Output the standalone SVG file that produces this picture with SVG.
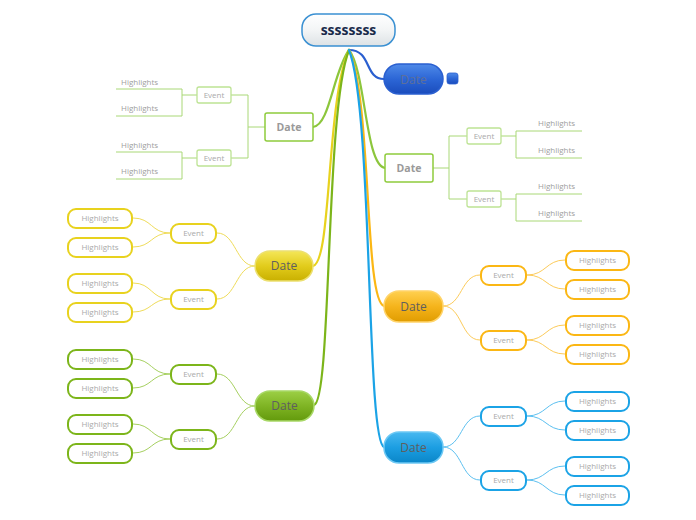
<svg xmlns="http://www.w3.org/2000/svg" width="696" height="520" viewBox="0 0 696 520">
<defs>
<linearGradient id="gRoot" x1="0" y1="0" x2="0" y2="1"><stop offset="0" stop-color="#ffffff"/><stop offset="0.5" stop-color="#f3f5f6"/><stop offset="1" stop-color="#dde2e5"/></linearGradient>
<linearGradient id="gBlueTop" x1="0" y1="0" x2="0" y2="1"><stop offset="0" stop-color="#4f8ae8"/><stop offset="0.5" stop-color="#2c66d6"/><stop offset="1" stop-color="#1a4cbc"/></linearGradient>
<linearGradient id="gYellow" x1="0" y1="0" x2="0" y2="1"><stop offset="0" stop-color="#f4e658"/><stop offset="0.5" stop-color="#e2cc1c"/><stop offset="1" stop-color="#c9b000"/></linearGradient>
<linearGradient id="gOrange" x1="0" y1="0" x2="0" y2="1"><stop offset="0" stop-color="#ffd050"/><stop offset="0.5" stop-color="#f5b41c"/><stop offset="1" stop-color="#e09c00"/></linearGradient>
<linearGradient id="gGreen" x1="0" y1="0" x2="0" y2="1"><stop offset="0" stop-color="#9ccf45"/><stop offset="0.5" stop-color="#7fb424"/><stop offset="1" stop-color="#639a0c"/></linearGradient>
<linearGradient id="gBlue" x1="0" y1="0" x2="0" y2="1"><stop offset="0" stop-color="#48b8f0"/><stop offset="0.5" stop-color="#1c9ee2"/><stop offset="1" stop-color="#0a86c8"/></linearGradient>
</defs>
<style>
text{font-family:"Open Sans","DejaVu Sans",sans-serif;text-anchor:middle}
.root{font-size:14px;font-weight:bold;fill:#1a2a4a}
.dc{font-size:12px;fill:#5f5f5f}
.dl{font-size:10.5px;font-weight:bold;fill:#9a9a9a}
.sm{font-size:8px;fill:#aaaaaa}
.hl{font-size:8px;fill:#a0a0a0;text-anchor:start}
.box{fill:#ffffff;stroke-width:2}
.ly{stroke:#e8d21e}.lo{stroke:#fbb714}.lg{stroke:#7cb51a}.lb{stroke:#1ba3e6}
.lgt{fill:#ffffff;stroke:#8fcb3c;stroke-width:1.5}
.lev{fill:#ffffff;stroke:#bde394;stroke-width:1.3}
.c{fill:none;stroke-width:1}
.trunk{fill:none;stroke-width:2.2;stroke-linecap:round}
</style>

<g id="connectors">
  <path class="trunk" stroke="#2a5fd0" d="M349,50 C372,50 364,79 384,79"/>
  <path class="trunk" stroke="#8cc63c" d="M349,50 C333,72 330,125 313,127"/>
  <path class="trunk" stroke="#8cc63c" d="M349,50 C366,72 365,165 385,168"/>
  <path class="trunk" stroke="#e8d21e" d="M349,50 C326,100 332,262 313,266"/>
  <path class="trunk" stroke="#fbb714" d="M349,50 C372,100 364,300 384,306"/>
  <path class="trunk" stroke="#7cb51a" d="M349,50 C325,110 332,400 314,405"/>
  <path class="trunk" stroke="#1ba3e6" d="M349,50 C373,110 366,440 384,447"/>

  <g class="c" stroke="#a9d877">
    <path d="M265,127 H248 M248,95 V158 M248,95 H231 M248,158 H231"/>
    <path d="M197,95 H182 M182,89 V116 M182,89 H116 M182,116 H116"/>
    <path d="M197,158 H182 M182,152 V179 M182,152 H116 M182,179 H116"/>
  </g>
  <g class="c" stroke="#a9d877">
    <path d="M433,168 H449 M449,136 V199 M449,136 H467 M449,199 H467"/>
    <path d="M501,136 H516 M516,131 V158 M516,131 H582 M516,158 H582"/>
    <path d="M501,199 H516 M516,194 V221 M516,194 H582 M516,221 H582"/>
  </g>

  <g class="c" stroke="#efdc5a">
    <path d="M255,266 C236,266 236,233 217,233"/>
    <path d="M255,266 C236,266 236,299 217,299"/>
    <path d="M170,233 C151,233 152,218 133,218"/>
    <path d="M170,233 C151,233 152,247 133,247"/>
    <path d="M170,299 C151,299 152,283 133,283"/>
    <path d="M170,299 C151,299 152,312 133,312"/>
  </g>
  <g class="c" stroke="#a6d060">
    <path d="M255,406 C236,406 236,374 217,374"/>
    <path d="M255,406 C236,406 236,439 217,439"/>
    <path d="M170,374 C151,374 152,359 133,359"/>
    <path d="M170,374 C151,374 152,388 133,388"/>
    <path d="M170,439 C151,439 152,424 133,424"/>
    <path d="M170,439 C151,439 152,453 133,453"/>
  </g>
  <g class="c" stroke="#fccb5a">
    <path d="M443,306 C462,306 461,275 480,275"/>
    <path d="M443,306 C462,306 461,340 480,340"/>
    <path d="M527,275 C546,275 546,260 565,260"/>
    <path d="M527,275 C546,275 546,289 565,289"/>
    <path d="M527,340 C546,340 546,325 565,325"/>
    <path d="M527,340 C546,340 546,354 565,354"/>
  </g>
  <g class="c" stroke="#5cc0f0">
    <path d="M443,447 C462,447 461,416 480,416"/>
    <path d="M443,447 C462,447 461,480 480,480"/>
    <path d="M527,416 C546,416 546,401 565,401"/>
    <path d="M527,416 C546,416 546,430 565,430"/>
    <path d="M527,480 C546,480 546,466 565,466"/>
    <path d="M527,480 C546,480 546,495 565,495"/>
  </g>
</g>

<g id="root">
  <rect x="302" y="14" width="93" height="32" rx="14" fill="url(#gRoot)" stroke="#3a90d2" stroke-width="1.5"/>
  <text class="root" x="348.5" y="35">ssssssss</text>
</g>

<g id="date-blue-top">
  <rect x="384" y="64" width="59" height="30" rx="15" fill="url(#gBlueTop)" stroke="#2a5fd0" stroke-width="1.5"/>
  <text class="dc" x="413.5" y="83.5" style="fill:#5d6f9a">Date</text>
  <rect x="447" y="73" width="11" height="11" rx="2.5" fill="url(#gBlueTop)" stroke="#2a5fd0" stroke-width="0.8"/>
</g>

<g id="date-topleft">
  <rect class="lgt" x="265" y="113" width="48" height="28" rx="2"/>
  <text class="dl" x="289" y="130.5">Date</text>
  <g id="tl-event1"><rect class="lev" x="197" y="87" width="34" height="16" rx="2"/><text class="sm" x="214" y="98">Event</text></g>
  <g id="tl-event2"><rect class="lev" x="197" y="150" width="34" height="16" rx="2"/><text class="sm" x="214" y="161">Event</text></g>
  <text class="hl" x="121" y="85">Highlights</text>
  <text class="hl" x="121" y="111">Highlights</text>
  <text class="hl" x="121" y="148">Highlights</text>
  <text class="hl" x="121" y="174">Highlights</text>
</g>

<g id="date-right">
  <rect class="lgt" x="385" y="154" width="48" height="28" rx="2"/>
  <text class="dl" x="409" y="171.5">Date</text>
  <g id="r-event1"><rect class="lev" x="467" y="128" width="34" height="16" rx="2"/><text class="sm" x="484" y="139">Event</text></g>
  <g id="r-event2"><rect class="lev" x="467" y="191" width="34" height="16" rx="2"/><text class="sm" x="484" y="202">Event</text></g>
  <text class="hl" x="538" y="126">Highlights</text>
  <text class="hl" x="538" y="153">Highlights</text>
  <text class="hl" x="538" y="189">Highlights</text>
  <text class="hl" x="538" y="216">Highlights</text>
</g>

<g id="date-yellow">
  <rect x="255" y="251" width="58" height="30" rx="15" fill="url(#gYellow)" stroke="#ece070" stroke-width="1.5"/>
  <text class="dc" x="284" y="270">Date</text>
  <g id="y-event1"><rect class="box ly" x="171" y="224" width="45" height="19" rx="8"/><text class="sm" x="193.5" y="236">Event</text></g>
  <g id="y-event2"><rect class="box ly" x="171" y="290" width="45" height="19" rx="8"/><text class="sm" x="193.5" y="302">Event</text></g>
  <g id="y-h1"><rect class="box ly" x="68" y="209" width="64" height="19" rx="8"/><text class="sm" x="100" y="221">Highlights</text></g>
  <g id="y-h2"><rect class="box ly" x="68" y="238" width="64" height="19" rx="8"/><text class="sm" x="100" y="250">Highlights</text></g>
  <g id="y-h3"><rect class="box ly" x="68" y="274" width="64" height="19" rx="8"/><text class="sm" x="100" y="286">Highlights</text></g>
  <g id="y-h4"><rect class="box ly" x="68" y="303" width="64" height="19" rx="8"/><text class="sm" x="100" y="315">Highlights</text></g>
</g>

<g id="date-orange">
  <rect x="384" y="291" width="59" height="31" rx="15" fill="url(#gOrange)" stroke="#ffd46a" stroke-width="1.5"/>
  <text class="dc" x="413.5" y="310.5">Date</text>
  <g id="o-event1"><rect class="box lo" x="481" y="266" width="45" height="19" rx="8"/><text class="sm" x="503.5" y="278">Event</text></g>
  <g id="o-event2"><rect class="box lo" x="481" y="331" width="45" height="19" rx="8"/><text class="sm" x="503.5" y="343">Event</text></g>
  <g id="o-h1"><rect class="box lo" x="566" y="251" width="63" height="19" rx="8"/><text class="sm" x="597.5" y="263">Highlights</text></g>
  <g id="o-h2"><rect class="box lo" x="566" y="280" width="63" height="19" rx="8"/><text class="sm" x="597.5" y="292">Highlights</text></g>
  <g id="o-h3"><rect class="box lo" x="566" y="316" width="63" height="19" rx="8"/><text class="sm" x="597.5" y="328">Highlights</text></g>
  <g id="o-h4"><rect class="box lo" x="566" y="345" width="63" height="19" rx="8"/><text class="sm" x="597.5" y="357">Highlights</text></g>
</g>

<g id="date-green">
  <rect x="255" y="391" width="59" height="30" rx="15" fill="url(#gGreen)" stroke="#a8d866" stroke-width="1.5"/>
  <text class="dc" x="284.5" y="410">Date</text>
  <g id="g-event1"><rect class="box lg" x="171" y="365" width="45" height="19" rx="8"/><text class="sm" x="193.5" y="377">Event</text></g>
  <g id="g-event2"><rect class="box lg" x="171" y="430" width="45" height="19" rx="8"/><text class="sm" x="193.5" y="442">Event</text></g>
  <g id="g-h1"><rect class="box lg" x="68" y="350" width="64" height="19" rx="8"/><text class="sm" x="100" y="362">Highlights</text></g>
  <g id="g-h2"><rect class="box lg" x="68" y="379" width="64" height="19" rx="8"/><text class="sm" x="100" y="391">Highlights</text></g>
  <g id="g-h3"><rect class="box lg" x="68" y="415" width="64" height="19" rx="8"/><text class="sm" x="100" y="427">Highlights</text></g>
  <g id="g-h4"><rect class="box lg" x="68" y="444" width="64" height="19" rx="8"/><text class="sm" x="100" y="456">Highlights</text></g>
</g>

<g id="date-blue">
  <rect x="384" y="432" width="59" height="31" rx="15" fill="url(#gBlue)" stroke="#6cc8f4" stroke-width="1.5"/>
  <text class="dc" x="413.5" y="451.5">Date</text>
  <g id="b-event1"><rect class="box lb" x="481" y="407" width="45" height="19" rx="8"/><text class="sm" x="503.5" y="419">Event</text></g>
  <g id="b-event2"><rect class="box lb" x="481" y="471" width="45" height="19" rx="8"/><text class="sm" x="503.5" y="483">Event</text></g>
  <g id="b-h1"><rect class="box lb" x="566" y="392" width="63" height="19" rx="8"/><text class="sm" x="597.5" y="404">Highlights</text></g>
  <g id="b-h2"><rect class="box lb" x="566" y="421" width="63" height="19" rx="8"/><text class="sm" x="597.5" y="433">Highlights</text></g>
  <g id="b-h3"><rect class="box lb" x="566" y="457" width="63" height="19" rx="8"/><text class="sm" x="597.5" y="469">Highlights</text></g>
  <g id="b-h4"><rect class="box lb" x="566" y="486" width="63" height="19" rx="8"/><text class="sm" x="597.5" y="498">Highlights</text></g>
</g>
</svg>
